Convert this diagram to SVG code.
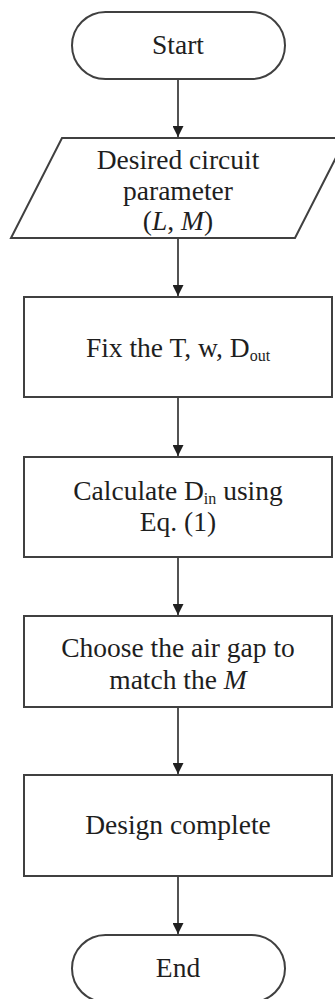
<svg xmlns="http://www.w3.org/2000/svg" width="335" height="999" viewBox="0 0 335 999">
<style>
.shape{fill:#ffffff;stroke:#404040;stroke-width:2}
.lbl{font-family:"Liberation Serif","Times New Roman",serif;font-size:27.5px;fill:#1e1e1e;text-anchor:middle}
.sub{font-size:16px}
.it{font-style:italic}
.conn{stroke:#404040;stroke-width:1.8;fill:none}
</style>
<defs>
<marker id="arr" markerUnits="userSpaceOnUse" markerWidth="11" markerHeight="11" refX="10" refY="5" orient="auto" viewBox="0 0 10 10">
<path d="M0,0 L10,5 L0,10 z" fill="#202020"/>
</marker>
</defs>
<rect width="335" height="999" fill="#ffffff"/>
<g id="connectors">
<line class="conn" x1="178" y1="79" x2="178" y2="137" marker-end="url(#arr)"/>
<line class="conn" x1="178" y1="238" x2="178" y2="296" marker-end="url(#arr)"/>
<line class="conn" x1="178" y1="397" x2="178" y2="456" marker-end="url(#arr)"/>
<line class="conn" x1="178" y1="557" x2="178" y2="615" marker-end="url(#arr)"/>
<line class="conn" x1="178" y1="707" x2="178" y2="774" marker-end="url(#arr)"/>
<line class="conn" x1="178" y1="876" x2="178" y2="934" marker-end="url(#arr)"/>
</g>
<g id="start">
<rect class="shape" x="72" y="12" width="213" height="67" rx="33.5" ry="33.5"/>
<text class="lbl" x="178" y="54">Start</text>
</g>
<g id="input">
<polygon class="shape" points="62,138 346,138 295,238 11,238"/>
<text class="lbl" x="178" y="169">Desired circuit</text>
<text class="lbl" x="178" y="200">parameter</text>
<text class="lbl" x="178" y="230">(<tspan class="it">L</tspan>, <tspan class="it">M</tspan>)</text>
</g>
<g id="fix">
<rect class="shape" x="24" y="297" width="308" height="100"/>
<text class="lbl" x="178" y="357">Fix the T, w, D<tspan class="sub" dy="4">out</tspan></text>
</g>
<g id="calculate">
<rect class="shape" x="24" y="457" width="308" height="100"/>
<text class="lbl" x="178" y="500">Calculate D<tspan class="sub" dy="4">in</tspan><tspan dy="-4"> using</tspan></text>
<text class="lbl" x="178" y="531">Eq. (1)</text>
</g>
<g id="choose">
<rect class="shape" x="24" y="616" width="308" height="91"/>
<text class="lbl" x="178" y="657">Choose the air gap to</text>
<text class="lbl" x="178" y="689">match the <tspan class="it">M</tspan></text>
</g>
<g id="design">
<rect class="shape" x="24" y="775" width="308" height="101"/>
<text class="lbl" x="178" y="834">Design complete</text>
</g>
<g id="end">
<rect class="shape" x="72" y="935" width="213" height="67" rx="33.5" ry="33.5"/>
<text class="lbl" x="178" y="977">End</text>
</g>
</svg>
